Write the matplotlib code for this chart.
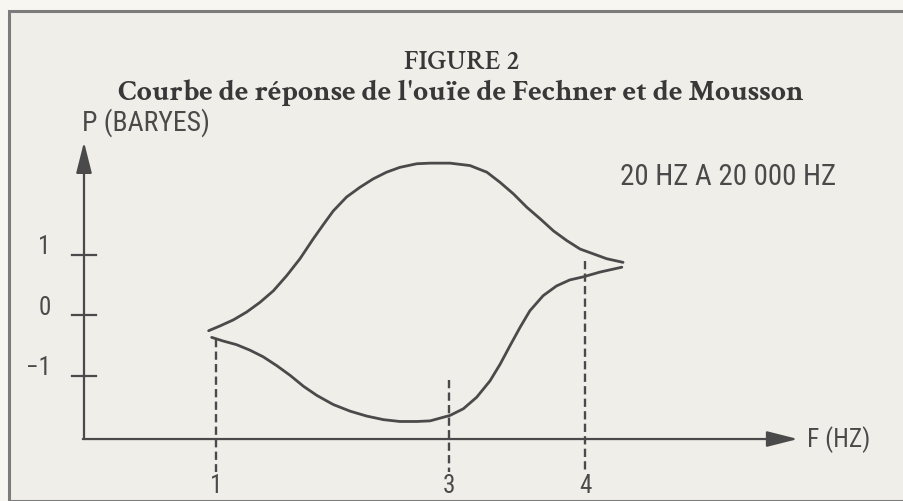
import matplotlib
matplotlib.use("Agg")
import matplotlib.pyplot as plt
from matplotlib.patches import Rectangle

# ────────────────────────────────
# Data
# x: arbitrary frequency units along the axis, y: pressure in baryes
# ────────────────────────────────
upper_x = [2.06, 2.25, 2.47, 2.69, 2.91, 3.13, 3.35, 3.57, 3.79, 3.96, 4.12, 4.34, 4.56, 4.78, 5.00,
           5.22, 5.50, 5.72, 6.05, 6.38, 6.66, 6.88, 7.10, 7.32, 7.54, 7.76, 7.98, 8.20, 8.42, 8.64, 8.91]
upper_y = [-0.26, -0.18, -0.08, 0.05, 0.21, 0.40, 0.65, 0.93, 1.26, 1.50, 1.72, 1.95, 2.11, 2.25, 2.36,
           2.44, 2.50, 2.51, 2.51, 2.47, 2.36, 2.19, 2.00, 1.78, 1.59, 1.39, 1.23, 1.09, 1.01, 0.93, 0.87]

lower_x = [2.11, 2.30, 2.52, 2.74, 2.96, 3.19, 3.41, 3.63, 3.85, 4.12, 4.40, 4.67, 4.95, 5.22, 5.50,
           5.72, 6.05, 6.27, 6.49, 6.71, 6.88, 7.04, 7.21, 7.37, 7.59, 7.81, 8.03, 8.25, 8.53, 8.89]
lower_y = [-0.37, -0.43, -0.49, -0.58, -0.69, -0.84, -1.00, -1.18, -1.33, -1.48, -1.59, -1.67, -1.73, -1.76, -1.76,
           -1.75, -1.66, -1.55, -1.36, -1.09, -0.81, -0.51, -0.20, 0.07, 0.32, 0.48, 0.58, 0.63, 0.71, 0.79]

marker_x = [2.19, 6.04, 8.28]
marker_top = [-0.40, -1.08, 0.90]
marker_labels = ["1", "3", "4"]

ytick_vals = [1, 0, -1]
ytick_labels = ["1", "0", "\u22121"]

x_axis_y = -2.05
x_axis_end = 11.8
y_axis_top = 2.86

INK = "#4a4a4a"
PAPER = "#efeee9"
MARGIN = "#f8f6f1"
SANS = ["Roboto Condensed", "DejaVu Sans"]
SERIF = ["Crimson Text", "DejaVu Serif"]

plt.rcParams["font.family"] = SANS

fig = plt.figure(figsize=(9.04, 5.02), dpi=100)
fig.patch.set_facecolor(MARGIN)
ax = fig.add_axes([0, 0, 1, 1])
ax.set_xlim(-84 / 60.5, 820 / 60.5)
ax.set_ylim(-186 / 60.5, 316 / 60.5)
ax.axis("off")
renderer = fig.canvas.get_renderer()


def fit_width(t, target_px):
    ########################
    # - scale a text so its rendered width matches the scan
    ########################
    w = t.get_window_extent(renderer).width
    t.set_fontsize(t.get_fontsize() * target_px / w)


# frame of the printed figure
ax.add_patch(Rectangle((-1.24, -3.07), 20, 8.095, facecolor=PAPER,
                       edgecolor="#7c7c7c", linewidth=2.2, zorder=0))

# axes with arrows
arrow = dict(arrowstyle="-|>,head_length=0.95,head_width=0.24", color=INK,
             lw=1.6, mutation_scale=20, shrinkA=0, shrinkB=0)
ax.annotate("", xy=(0, y_axis_top), xytext=(0, x_axis_y), arrowprops=arrow)
ax.annotate("", xy=(x_axis_end, x_axis_y), xytext=(-0.02, x_axis_y), arrowprops=arrow)

# y ticks
for v, lab in zip(ytick_vals, ytick_labels):
    ax.plot([-0.2, 0.2], [v, v], color=INK, lw=1.6)
    ax.text(-0.55, v + 0.14, lab, ha="right", va="center", fontsize=18, color=INK)

# curves
ax.plot(upper_x, upper_y, color=INK, lw=2.0, solid_capstyle="round", solid_joinstyle="round")
ax.plot(lower_x, lower_y, color=INK, lw=2.0, solid_capstyle="round", solid_joinstyle="round")

# dashed verticals and their labels
for mx, top, lab in zip(marker_x, marker_top, marker_labels):
    ax.plot([mx, mx], [top, -2.6], color=INK, lw=1.7, linestyle=(0, (3.5, 1.8)))
    ax.text(mx, -2.81, lab, ha="center", va="center", fontsize=18, color=INK)

# labels
t = ax.text(-0.03, 3.19, "P (BARYES)", ha="left", va="center", fontsize=18, color=INK)
fit_width(t, 128)
t = ax.text(11.95, x_axis_y, "F (HZ)", ha="left", va="center", fontsize=18, color=INK)
fit_width(t, 63)
t = ax.text(8.86, 2.30, "20 HZ A 20 000 HZ", ha="left", va="center", fontsize=18, color=INK)
fit_width(t, 216)

ax.text(6.25, 4.19, "FIGURE 2", ha="center", va="center", fontsize=20,
        family=SERIF, fontweight="semibold", color="#383838")
t = ax.text(6.23, 3.69, "Courbe de réponse de l'ouïe de Fechner et de Mousson",
            ha="center", va="center", fontsize=20, family=SERIF,
            fontweight="bold", color="#383838")
fit_width(t, 686)

fig.savefig("out.png", dpi=100, facecolor=fig.get_facecolor())
